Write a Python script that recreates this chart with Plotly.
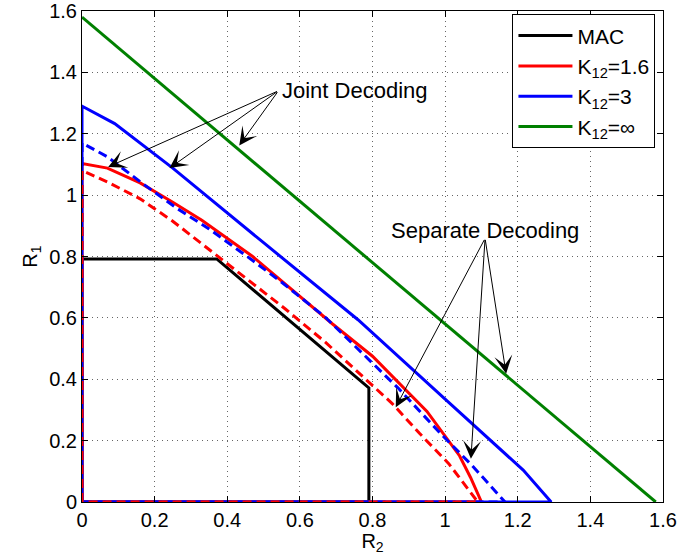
import plotly.graph_objects as go

# ---------------- data ----------------
tick_vals = [0, 0.2, 0.4, 0.6, 0.8, 1.0, 1.2, 1.4, 1.6]
tick_text = ["0", "0.2", "0.4", "0.6", "0.8", "1", "1.2", "1.4", "1.6"]

# MAC region (closed)
mac_r2 = [0, 0, 0.371, 0.79, 0.79, 0]
mac_r1 = [0, 0.792, 0.792, 0.372, 0, 0]

# K12 = 1.6, joint decoding (solid red), closed along the axes
k16_r2 = [0, 0, 0.07, 0.16, 0.25, 0.33, 0.47, 0.58, 0.69, 0.80, 0.90, 0.95, 1.04, 1.07, 1.10, 0]
k16_r1 = [0, 1.103, 1.088, 1.04, 0.977, 0.918, 0.80, 0.69, 0.58, 0.475, 0.355, 0.295, 0.15, 0.08, 0, 0]

# K12 = 3, joint decoding (solid blue)
k3_r2 = [0, 0, 0.09, 0.25, 0.50, 0.76, 1.0, 1.215, 1.292, 0]
k3_r1 = [0, 1.29, 1.233, 1.088, 0.845, 0.594, 0.335, 0.104, 0, 0]

# K12 = inf (green)
kinf_r2 = [0, 1.58]
kinf_r1 = [1.58, 0]

# K12 = 3, separate decoding (dashed blue)
k3s_r2 = [0, 0, 0.07, 0.17, 0.26, 0.35, 0.47, 0.55, 0.67, 0.76, 0.87, 0.99, 1.075, 1.165, 0]
k3s_r1 = [0, 1.17, 1.125, 1.035, 0.958, 0.89, 0.787, 0.716, 0.602, 0.497, 0.372, 0.22, 0.118, 0, 0]

# K12 = 1.6, separate decoding (dashed red)
k16s_r2 = [0, 0, 0.07, 0.16, 0.25, 0.33, 0.44, 0.56, 0.67, 0.72, 0.855, 0.93, 1.01, 1.09, 0]
k16s_r1 = [0, 1.08, 1.043, 0.988, 0.915, 0.841, 0.738, 0.629, 0.521, 0.466, 0.32, 0.223, 0.125, 0, 0]

legend_names = ["MAC", "K<sub>12</sub>=1.6", "K<sub>12</sub>=3", "K<sub>12</sub>=\u221e"]

# annotation anchors (data coordinates)
joint_label = "Joint Decoding"
joint_tail = (0.541, 1.340)
joint_heads = [(0.072, 1.092), (0.241, 1.088), (0.433, 1.162)]
sep_label = "Separate Decoding"
sep_text_pos = (1.11, 0.886)
sep_tail = (1.110, 0.859)
sep_heads = [(0.864, 0.309), (1.071, 0.141), (1.168, 0.418)]

# ---------------- figure ----------------
FONT = "Liberation Sans, Arial, Helvetica, sans-serif"
fig = go.Figure()

def add(x, y, color, name=None, dash="solid", legend=True):
    fig.add_trace(go.Scatter(
        x=x, y=y, mode="lines", name=name, showlegend=legend,
        line=dict(color=color, width=3, dash=dash)))

add(mac_r2, mac_r1, "#000000", legend_names[0])
add(k16_r2, k16_r1, "#ff0000", legend_names[1])
add(k3_r2, k3_r1, "#0000ff", legend_names[2])
add(kinf_r2, kinf_r1, "#008000", legend_names[3])
add(k3s_r2, k3s_r1, "#0000ff", dash="9px,5px", legend=False)
add(k16s_r2, k16s_r1, "#ff0000", dash="9px,5px", legend=False)

annotations = []
for tail, heads in ((joint_tail, joint_heads), (sep_tail, sep_heads)):
    for hx, hy in heads:
        annotations.append(dict(x=hx, y=hy, ax=tail[0], ay=tail[1],
                                xref="x", yref="y", axref="x", ayref="y", text="",
                                showarrow=True, arrowhead=3, arrowsize=3, arrowwidth=1,
                                arrowcolor="black", standoff=0, startstandoff=0))
annotations.append(dict(x=joint_tail[0] + 0.003, y=joint_tail[1], xref="x", yref="y",
                        text=joint_label, showarrow=False, xanchor="left", yanchor="middle",
                        font=dict(size=22, color="black", family=FONT)))
annotations.append(dict(x=sep_text_pos[0], y=sep_text_pos[1], xref="x", yref="y",
                        text=sep_label, showarrow=False, xanchor="center", yanchor="middle",
                        font=dict(size=22, color="black", family=FONT)))

axis_common = dict(
    range=[0, 1.6], tickvals=tick_vals, ticktext=tick_text,
    showgrid=True, gridcolor="rgba(0,0,0,0.6)", griddash="1px,4px", gridwidth=1,
    showline=True, linecolor="black", linewidth=1, mirror="ticks",
    ticks="inside", ticklen=6, tickcolor="black", zeroline=False,
    tickfont=dict(size=20, color="black", family=FONT), automargin=False,
)

fig.update_layout(
    width=677, height=555,
    margin=dict(l=82, r=14, t=11, b=53),
    plot_bgcolor="white", paper_bgcolor="white",
    font=dict(family=FONT, color="black"),
    xaxis=dict(**axis_common, title=dict(text="R<sub>2</sub>", standoff=0,
                                         font=dict(size=20, color="black", family=FONT))),
    yaxis=dict(**axis_common, title=dict(text="R<sub>1</sub>", standoff=6,
                                         font=dict(size=20, color="black", family=FONT))),
    legend=dict(x=0.987, y=0.993, xanchor="right", yanchor="top",
                bgcolor="white", bordercolor="black", borderwidth=1,
                font=dict(size=21, color="black", family=FONT),
                tracegroupgap=0, itemwidth=54),
    annotations=annotations,
)

# remove the default page margin so the 677x555 figure fills the window exactly
fig.write_html("out.html", config={"displayModeBar": False},
               post_script="document.body.style.margin='0';document.body.style.overflow='hidden';")
